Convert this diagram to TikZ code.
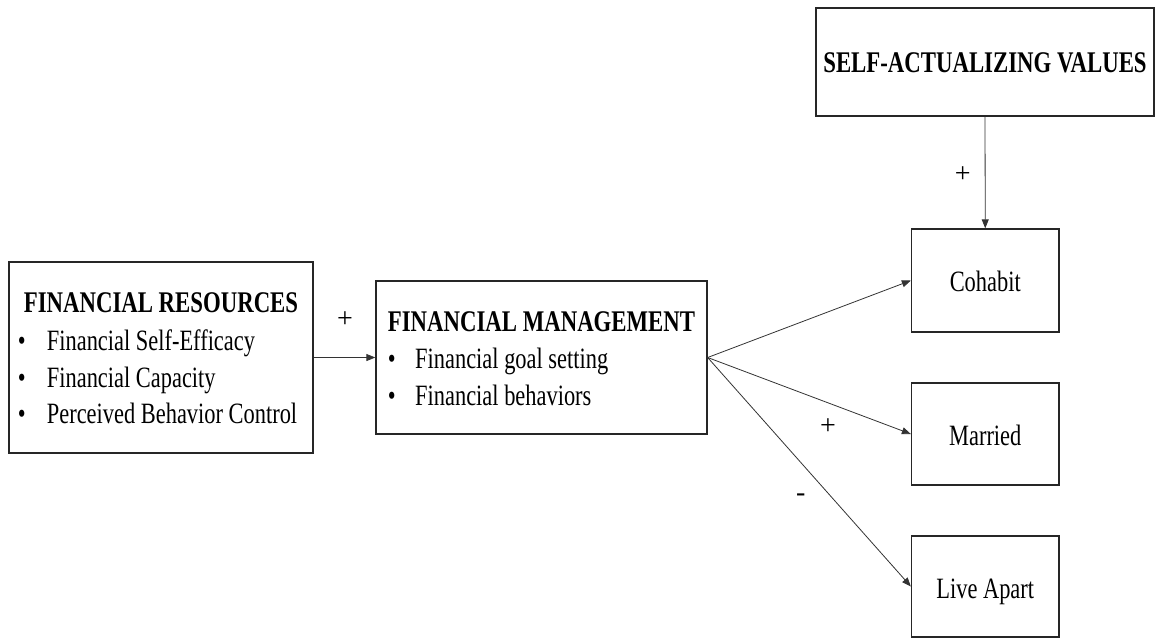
\documentclass[tikz,border=0pt]{standalone}
\usepackage{fontspec}
\setmainfont{Liberation Serif}[FakeStretch=0.76]
\newfontfamily\signfont{Liberation Serif}
\usetikzlibrary{arrows.meta}

\tikzset{
  box/.style={draw=black!85, line width=1.3pt, rectangle, inner sep=0pt},
  head/.style={font=\fontsize{30}{36}\selectfont\bfseries, anchor=base, inner sep=0pt},
  item/.style={font=\fontsize{29.5}{34}\selectfont, anchor=base west, inner sep=0pt},
  dot/.style={font=\fontsize{29.5}{34}\selectfont, anchor=base, inner sep=0pt},
  state/.style={font=\fontsize{29.5}{34}\selectfont, anchor=base, inner sep=0pt},
  sign/.style={font=\signfont\fontsize{28}{32}\selectfont, inner sep=0pt},
  link/.style={draw=black!80, line width=0.8pt, -{Triangle[length=9pt,width=7pt]}}
}

\begin{document}
\begin{tikzpicture}[x=1pt,y=-1pt]
\useasboundingbox (0,0) rectangle (1155,638);

% boxes
\node[box, minimum width=304pt, minimum height=191pt] (fr) at (161,357.5) {};
\node[box, minimum width=331pt, minimum height=153pt] (fm) at (541.5,357.5) {};
\node[box, minimum width=338pt, minimum height=108pt] (sav) at (985,62) {};
\node[box, minimum width=147.5pt, minimum height=103pt] (cohabit) at (985.25,280.5) {};
\node[box, minimum width=147.5pt, minimum height=102pt] (married) at (985.25,434) {};
\node[box, minimum width=147.5pt, minimum height=101pt] (apart) at (985.25,586.5) {};

% financial resources
\node[head] (frhead) at (161,312.7) {FINANCIAL RESOURCES};
\node[dot] (frb1) at (21.7,350) {•};
\node[item] (fri1) at (46.7,350) {Financial Self-Efficacy};
\node[dot] (frb2) at (21.7,387) {•};
\node[item] (fri2) at (46.7,387) {Financial Capacity};
\node[dot] (frb3) at (21.7,423) {•};
\node[item] (fri3) at (46.7,423) {Perceived Behavior Control};

% financial management
\node[head] (fmhead) at (541.5,331.7) {FINANCIAL MANAGEMENT};
\node[dot] (fmb1) at (391.7,368) {•};
\node[item] (fmi1) at (415,368) {Financial goal setting};
\node[dot] (fmb2) at (391.7,405) {•};
\node[item] (fmi2) at (415,405) {Financial behaviors};

% values and outcomes
\node[head] (savhead) at (985,72.7) {SELF-ACTUALIZING VALUES};
\node[state] (cohabittxt) at (985.25,291.7) {Cohabit};
\node[state] (marriedtxt) at (985.25,445) {Married};
\node[state] (aparttxt) at (985.25,598) {Live Apart};

% connectors
\draw[link] (fr.east) -- (fm.west);
\draw[link] (fm.east) -- (cohabit.west);
\draw[link] (fm.east) -- (married.west);
\draw[link] (fm.east) -- (apart.west);
\draw[link] (sav.south) -- (cohabit.north);

% signs
\node[sign] (s1) at (345,320) {+};
\node[sign] (s2) at (962.7,175) {+};
\node[sign] (s3) at (828,426.7) {+};
\node[sign] (s4) at (800.7,498) {-};
\end{tikzpicture}
\end{document}
